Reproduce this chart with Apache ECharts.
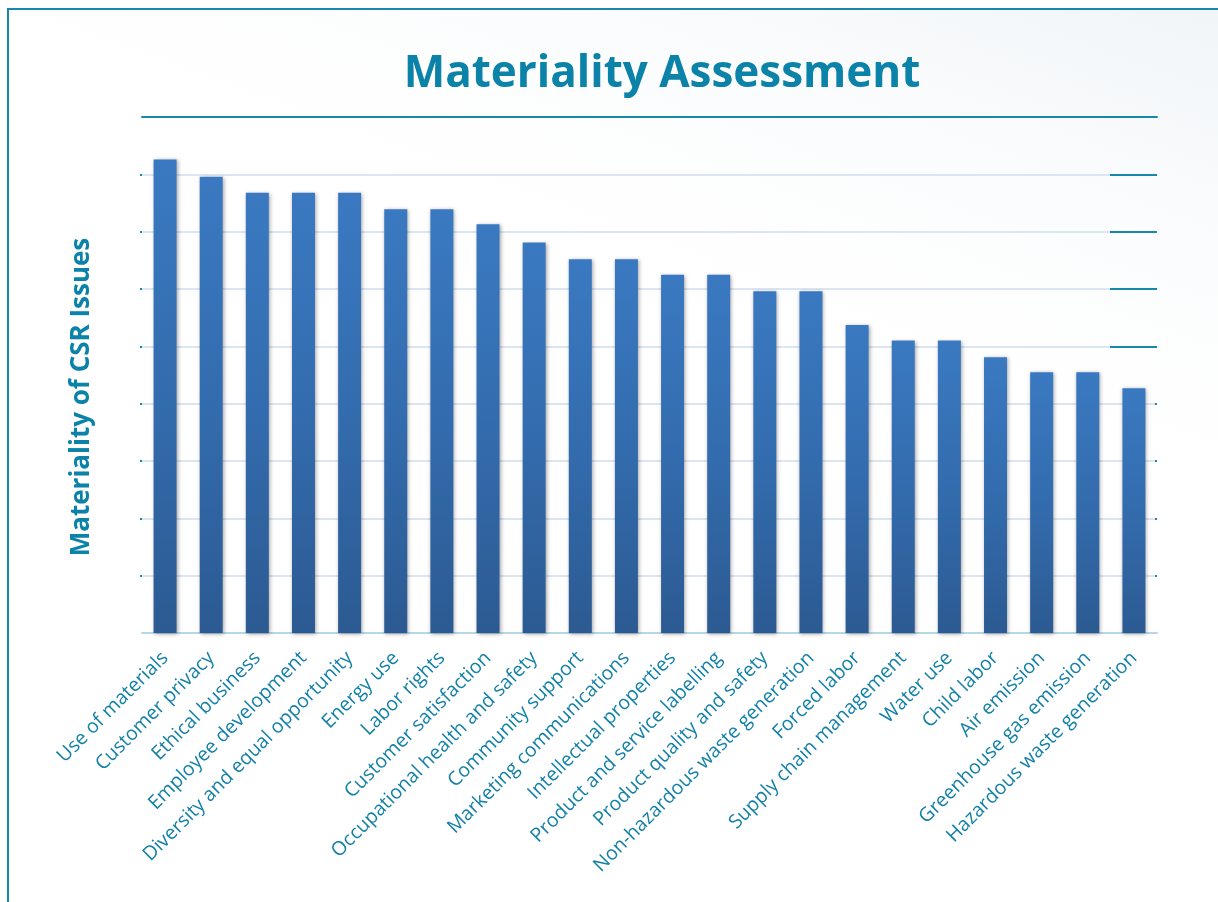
<!DOCTYPE html>
<html>
<head>
<meta charset="utf-8">
<script src="https://cdn.jsdelivr.net/npm/echarts@6/dist/echarts.min.js"></script>
<style>
  html, body { margin: 0; padding: 0; background: #fff; }
  #frame {
    position: absolute; left: 7px; top: 8px; width: 1211px; height: 894px;
    border-top: 2px solid #1787aa; border-left: 2px solid #1787aa;
    box-sizing: border-box;
    background: linear-gradient(200deg, #f1f5f8 0%, #fbfcfd 18%, #ffffff 35%);
  }
  #chart { position: absolute; left: 0; top: 0; width: 1218px; height: 902px; }
</style>
</head>
<body>
<div id="frame"></div>
<div id="chart"></div>
<script>
// CSR issues, ordered from most to least material
const issues = [
  'Use of materials', 'Customer privacy', 'Ethical business', 'Employee development',
  'Diversity and equal opportunity', 'Energy use', 'Labor rights', 'Customer satisfaction',
  'Occupational health and safety', 'Community support', 'Marketing communications',
  'Intellectual properties', 'Product and service labelling', 'Product quality and safety',
  'Non-hazardous waste generation', 'Forced labor', 'Supply chain management', 'Water use',
  'Child labor', 'Air emission', 'Greenhouse gas emission', 'Hazardous waste generation'
];
const materiality = [
  8.26, 7.96, 7.68, 7.68, 7.68, 7.39, 7.39, 7.13, 6.81, 6.52, 6.52,
  6.25, 6.25, 5.96, 5.96, 5.37, 5.10, 5.10, 4.81, 4.55, 4.55, 4.27
];
const longTicks = [5, 6, 7, 8];
const shortTicks = [1, 2, 3, 4];

const teal = '#0b82a8';
const chart = echarts.init(document.getElementById('chart'));

chart.setOption({
  backgroundColor: 'transparent',
  title: {
    text: 'Materiality Assessment',
    left: 657,
    textAlign: 'center',
    top: 47,
    textStyle: { fontFamily: 'Open Sans', fontWeight: 'bold', fontSize: 44, color: teal }
  },
  grid: { left: 142, right: 61, top: 117, bottom: 269 },
  xAxis: [
    {
      type: 'category',
      data: issues,
      axisLine: { onZero: false, lineStyle: { color: '#b8d7e6', width: 2 } },
      axisTick: { show: false },
      axisLabel: {
        rotate: 45,
        interval: 0,
        margin: 22,
        fontFamily: 'Open Sans',
        fontSize: 19.5,
        color: '#1380a8'
      }
    },
    {
      type: 'category',
      position: 'top',
      data: issues,
      axisLine: { onZero: false, lineStyle: { color: '#1787aa', width: 2 } },
      axisTick: { show: false },
      axisLabel: { show: false }
    }
  ],
  yAxis: [
    {
      type: 'value',
      min: 0, max: 9, interval: 1,
      name: 'Materiality of CSR Issues',
      nameLocation: 'middle',
      nameGap: 47,
      nameTextStyle: {
        fontFamily: 'Open Sans', fontWeight: 'bold', fontSize: 26, color: teal,
        padding: [0, 44, 0, 0]
      },
      axisLine: { show: false },
      axisTick: { show: true, length: 2, customValues: [1, 2, 3, 4, 5, 6, 7, 8],
        lineStyle: { color: '#1787aa', width: 2 } },
      axisLabel: { show: false },
      splitLine: { lineStyle: { color: '#dbe6f2', width: 2 } }
    },
    {
      type: 'value',
      position: 'right',
      min: 0, max: 9, interval: 1,
      axisLine: { show: false },
      axisTick: { show: true, inside: true, length: 47, customValues: longTicks,
        lineStyle: { color: '#1787aa', width: 2 } },
      axisLabel: { show: false },
      splitLine: { show: false }
    },
    {
      type: 'value',
      position: 'right',
      min: 0, max: 9, interval: 1,
      axisLine: { show: false },
      axisTick: { show: true, inside: true, length: 2, customValues: shortTicks,
        lineStyle: { color: '#1787aa', width: 2 } },
      axisLabel: { show: false },
      splitLine: { show: false }
    }
  ],
  series: [
    {
      name: 'Materiality',
      type: 'bar',
      data: materiality,
      barWidth: 23,
      itemStyle: {
        color: new echarts.graphic.LinearGradient(0, 0, 0, 1, [
          { offset: 0, color: '#3a79c1' },
          { offset: 0.5, color: '#336cae' },
          { offset: 1, color: '#2c5a92' }
        ]),
        shadowBlur: 4,
        shadowColor: 'rgba(0, 0, 0, 0.35)',
        shadowOffsetX: 1,
        shadowOffsetY: 1
      }
    }
  ],
  animation: false
});
</script>
</body>
</html>
